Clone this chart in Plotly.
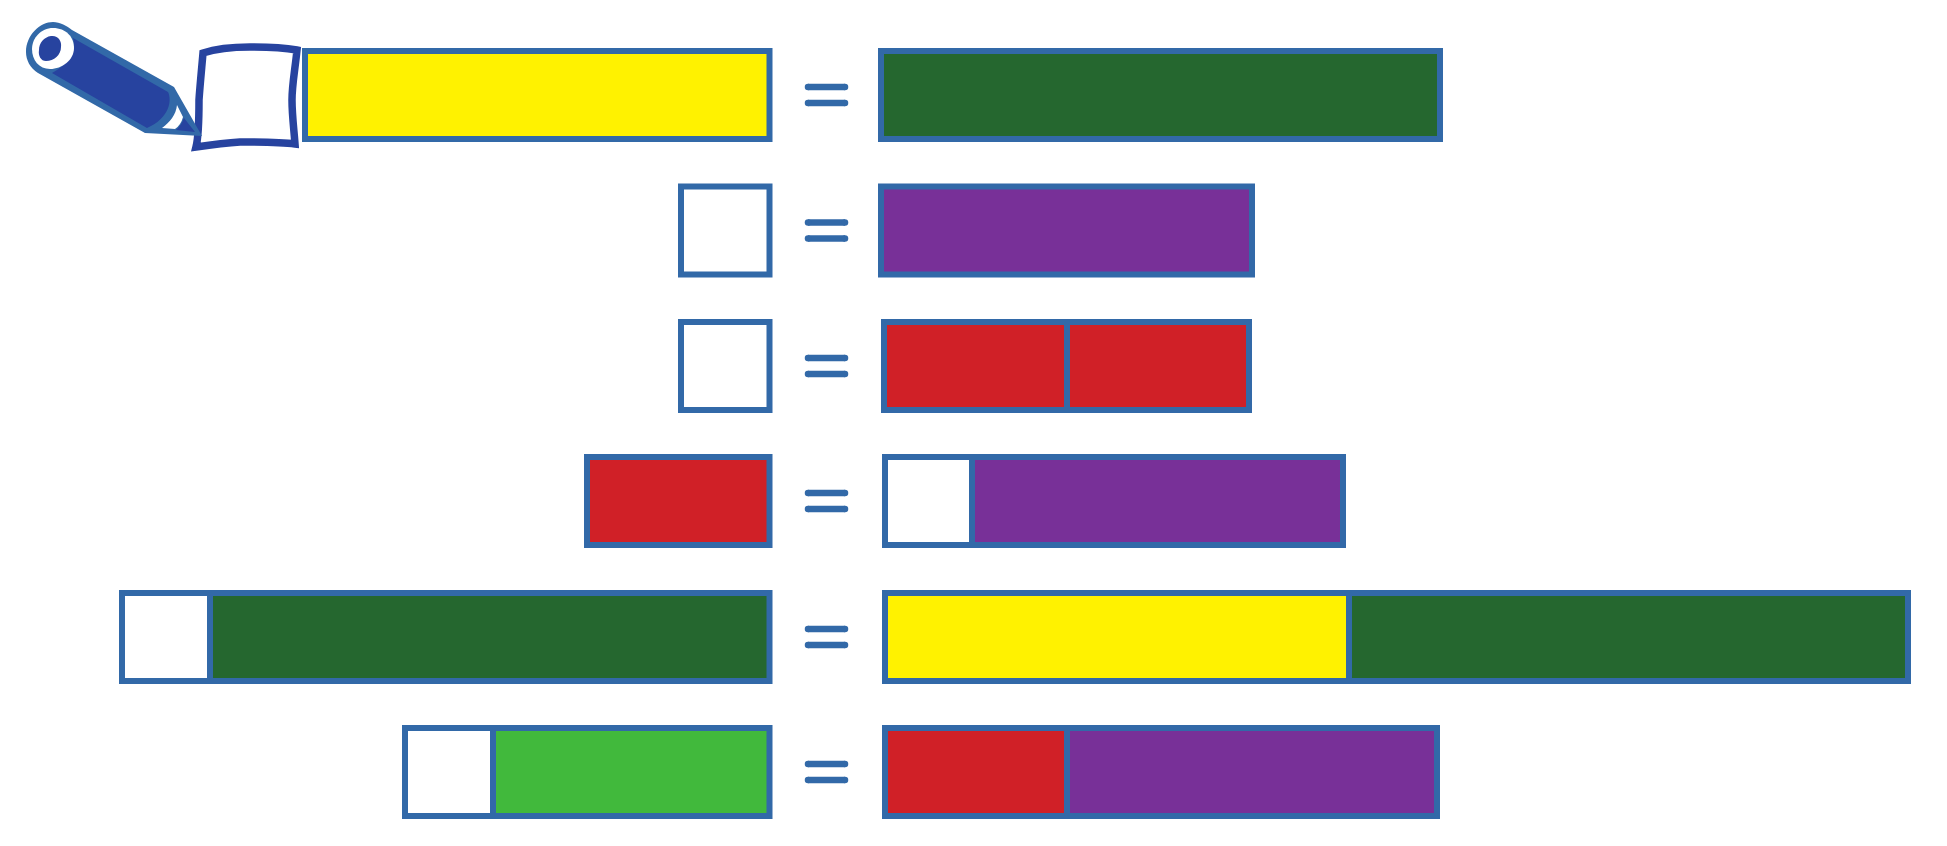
import plotly.graph_objects as go

# segment widths of each row (same order as the colour lists)
left_names = [["yellow"], ["white"], ["white"], ["red"], ["white", "dark_green"], ["white", "light_green"]]
left_widths = [[464.5], [88.5], [88.5], [182.5], [88, 559.5], [88, 276.5]]
right_names = [["dark_green"], ["purple"], ["red", "red"], ["white", "purple"], ["yellow", "dark_green"], ["red", "purple"]]
right_widths = [[559], [371], [183, 182], [87, 371], [464, 559], [182, 370]]

colors = {
    "yellow": "#FFF200",
    "dark_green": "#25672F",
    "light_green": "#41B93C",
    "purple": "#783098",
    "red": "#D02027",
    "white": "#FFFFFF",
}
border = "#3269A8"
pencil = "#27439F"

# page layout
row_y = [95, 230.5, 366, 501, 637, 772]
left_end = 769.5
right_start = [881, 881, 884, 885, 885, 885]
bar_height = 88

xs, bases, ys, cols = [], [], [], []
for i in range(len(row_y)):
    pos = left_end
    for name, w in zip(reversed(left_names[i]), reversed(left_widths[i])):
        pos = pos - w
        xs.append(w)
        bases.append(pos)
        ys.append(row_y[i])
        cols.append(colors[name])
    pos = right_start[i]
    for name, w in zip(right_names[i], right_widths[i]):
        xs.append(w)
        bases.append(pos)
        ys.append(row_y[i])
        cols.append(colors[name])
        pos = pos + w

fig = go.Figure()
fig.add_trace(go.Bar(x=xs, y=ys, base=bases, orientation="h", width=bar_height,
                     marker=dict(color=cols, line=dict(color=border, width=6))))

# equals signs
eq_x, eq_y = [], []
for y in row_y:
    for off in [-8, 8]:
        eq_x += [808, 845, None]
        eq_y += [y + off, y + off, None]
fig.add_trace(go.Scatter(x=eq_x, y=eq_y, mode="lines+markers",
                         line=dict(color=border, width=6.5),
                         marker=dict(color=border, size=6.5, line=dict(width=0))))

# pencil and the hand drawn box in the first row
def blob(path, fill, line_color=None, line_width=0):
    fig.add_shape(type="path", path=path, xref="x", yref="y", fillcolor=fill,
                  line=dict(color=line_color or fill, width=line_width))

blob("M 203 53 C 215 49 235 47 250 47 C 265 47 285 48 297 50 C 295 70 292 85 292 100 "
     "C 292 115 294 130 295 144 C 280 142 260 142 240 142 C 225 143 210 145 196 147 "
     "C 199 135 199 115 199 100 C 200 85 202 65 203 53 Z",
     "#FFFFFF", pencil, 7.5)
blob("M 72 30 L 174 87 L 202 136 L 145 133 L 38 73 C 30 68 26 60 26 52 "
     "C 26 35 40 22 53 22 C 60 22 67 26 72 30 Z", border)
blob("M 73 38 L 168 92 C 172 100 170 118 147 128 L 52 73 C 66 66 77 52 73 38 Z", pencil)
blob("M 177 105 L 183 117 Q 181 125 175 129 L 162 128 C 170 122 176 115 177 105 Z", "#FFFFFF")
blob("M 184 118 L 195 132 L 176 130 Q 181 126 184 118 Z", pencil)
blob("M 53 28 C 66 28 74 37 74 48 C 74 60 62 69 50 69 C 39 69 32 60 32 49 C 32 38 41 28 53 28 Z", "#FFFFFF")
blob("M 51 36 C 58 35 62 41 61 47 C 61 55 54 61 46 61 C 41 61 38 56 39 50 C 39 43 44 37 51 36 Z", pencil)

fig.update_layout(
    width=1947,
    height=846,
    margin=dict(l=0, r=0, t=0, b=0),
    barmode="overlay",
    showlegend=False,
    plot_bgcolor="white",
    paper_bgcolor="white",
    xaxis=dict(range=[0, 1947], visible=False),
    yaxis=dict(range=[846, 0], visible=False),
)
fig.write_html("out.html", config=dict(displayModeBar=False),
               post_script="document.body.style.margin='0'")
